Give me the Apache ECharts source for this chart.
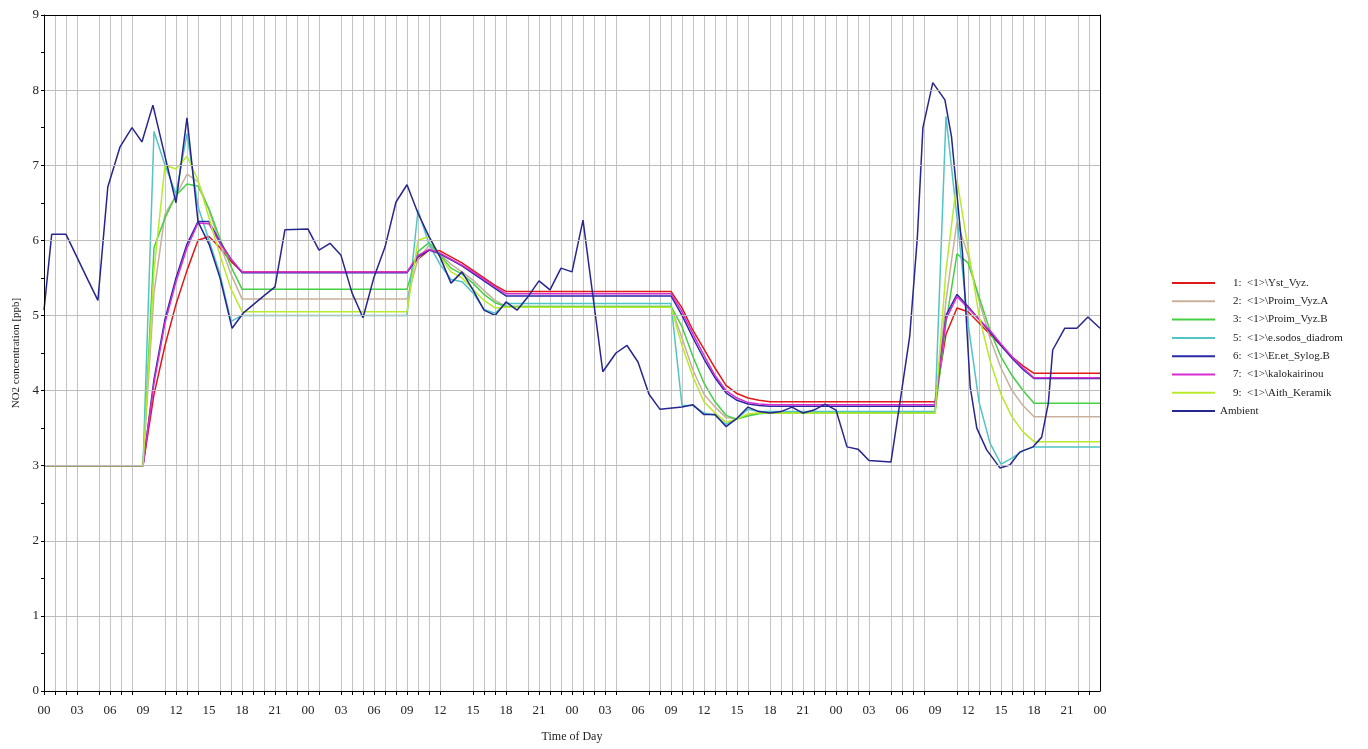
<!DOCTYPE html>
<html>
<head>
<meta charset="utf-8">
<title>NO2 concentration</title>
<script src="https://cdn.jsdelivr.net/npm/echarts@6/dist/echarts.min.js"></script>
<style>
  html, body { margin: 0; padding: 0; background: #ffffff; }
  #chart { width: 1368px; height: 749px; }
</style>
</head>
<body>
<div id="chart"></div>
<script>
// Hour-of-day labels repeated every day along the time axis (every 3 h)
const dayHourLabels = ['00', '03', '06', '09', '12', '15', '18', '21'];

// Hours (from start of run) that carry a vertical grid line and an axis tick
const gridHours = [0, 1, 2, 3, 5, 6, 7, 8, 11, 12, 13, 14, 16, 17, 18, 19, 20, 21, 22, 23, 24,
  25, 27, 28, 29, 30, 31, 32, 33, 34, 35, 36, 39, 40, 41, 42, 44, 45, 46, 47, 48,
  49, 50, 51, 52, 55, 56, 57, 58, 59, 60, 61, 62, 63, 64, 66, 67, 68, 69, 70, 71, 72,
  73, 74, 75, 77, 78, 79, 80, 83, 84, 85, 86, 87, 88, 89, 90, 91, 94, 95];

// Station series: [hour, NO2 ppb]
const yst_vyz = [[0,3.0],[9,3.0],[10,3.95],[11,4.6],[12,5.15],[13,5.6],[14,6.0],[15,6.05],[16,5.9],[17,5.72],[18,5.58],
  [33,5.58],[34,5.75],[35,5.87],[36,5.86],[37,5.78],[38,5.7],[39,5.6],[40,5.5],[41,5.4],[42,5.32],
  [57,5.32],[58,5.1],[59,4.8],[60,4.55],[61,4.3],[62,4.07],[63,3.96],[64,3.9],[65,3.87],[66,3.85],
  [81,3.85],[82,4.75],[83,5.1],[84,5.05],[85,4.9],[86,4.75],[87,4.6],[88,4.45],[89,4.33],[90,4.23],[96,4.23]];

const proim_vyz_a = [[0,3.0],[9,3.0],[10,5.3],[11,6.35],[12,6.6],[13,6.88],[14,6.78],[15,6.4],[16,5.95],[17,5.55],[18,5.22],
  [33,5.22],[34,5.75],[35,5.93],[36,5.82],[37,5.68],[38,5.58],[39,5.47],[40,5.33],[41,5.2],[42,5.12],
  [57,5.12],[58,4.7],[59,4.27],[60,3.95],[61,3.78],[62,3.64],[63,3.62],[64,3.68],[65,3.7],[66,3.71],
  [81,3.71],[82,5.2],[83,6.25],[84,5.8],[85,5.2],[86,4.7],[87,4.3],[88,4.0],[89,3.8],[90,3.65],[96,3.65]];

const proim_vyz_b = [[0,3.0],[9,3.0],[10,5.9],[11,6.3],[12,6.6],[13,6.75],[14,6.72],[15,6.42],[16,6.02],[17,5.65],[18,5.35],
  [33,5.35],[34,5.85],[35,5.97],[36,5.8],[37,5.63],[38,5.55],[39,5.43],[40,5.28],[41,5.17],[42,5.12],
  [57,5.12],[58,4.85],[59,4.45],[60,4.1],[61,3.85],[62,3.67],[63,3.62],[64,3.66],[65,3.69],[66,3.7],
  [81,3.7],[82,4.9],[83,5.82],[84,5.7],[85,5.25],[86,4.8],[87,4.45],[88,4.2],[89,4.0],[90,3.83],[96,3.83]];

const esodos_diadrom = [[0,3.0],[9,3.0],[10,7.45],[11,7.0],[12,6.62],[13,7.42],[14,6.45],[15,6.0],[16,5.55],[17,4.92],[18,5.0],
  [33,5.0],[34,6.4],[35,5.95],[36,5.68],[37,5.48],[38,5.45],[39,5.3],[40,5.08],[41,5.03],[42,5.16],
  [57,5.16],[58,3.8],[59,3.8],[60,3.7],[61,3.67],[62,3.55],[63,3.63],[64,3.75],[65,3.72],[66,3.72],
  [81,3.72],[82,7.65],[83,6.3],[84,4.9],[85,3.85],[86,3.3],[87,3.02],[88,3.1],[89,3.2],[90,3.25],[96,3.25]];

const eret_sylog_b = [[0,3.0],[9,3.0],[10,4.15],[11,4.95],[12,5.5],[13,5.95],[14,6.25],[15,6.25],[16,5.98],[17,5.75],[18,5.57],
  [33,5.57],[34,5.78],[35,5.87],[36,5.82],[37,5.74],[38,5.66],[39,5.56],[40,5.46],[41,5.36],[42,5.26],
  [57,5.26],[58,5.0],[59,4.7],[60,4.42],[61,4.17],[62,3.97],[63,3.87],[64,3.82],[65,3.8],[66,3.79],
  [81,3.79],[82,5.0],[83,5.28],[84,5.12],[85,4.95],[86,4.78],[87,4.6],[88,4.43],[89,4.28],[90,4.16],[96,4.16]];

const kalokairinou = [[0,3.0],[9,3.0],[10,4.1],[11,4.9],[12,5.45],[13,5.9],[14,6.23],[15,6.22],[16,5.96],[17,5.75],[18,5.58],
  [33,5.58],[34,5.8],[35,5.88],[36,5.83],[37,5.75],[38,5.67],[39,5.58],[40,5.48],[41,5.38],[42,5.29],
  [57,5.29],[58,5.05],[59,4.75],[60,4.47],[61,4.2],[62,4.0],[63,3.9],[64,3.84],[65,3.82],[66,3.81],
  [81,3.81],[82,4.95],[83,5.25],[84,5.1],[85,4.95],[86,4.8],[87,4.62],[88,4.45],[89,4.3],[90,4.17],[96,4.17]];

const aith_keramik = [[0,3.0],[9,3.0],[10,5.6],[11,7.0],[12,6.95],[13,7.12],[14,6.8],[15,6.3],[16,5.8],[17,5.35],[18,5.05],
  [33,5.05],[34,6.0],[35,6.05],[36,5.78],[37,5.58],[38,5.5],[39,5.35],[40,5.2],[41,5.1],[42,5.11],
  [57,5.11],[58,4.6],[59,4.18],[60,3.85],[61,3.7],[62,3.58],[63,3.62],[64,3.69],[65,3.7],[66,3.7],
  [81,3.7],[82,5.6],[83,6.8],[84,5.9],[85,5.0],[86,4.4],[87,3.95],[88,3.65],[89,3.45],[90,3.32],[96,3.32]];

// Measured ambient concentration
const ambient = [[0,5.07],[0.7,6.08],[2,6.08],[4,5.47],[4.9,5.2],[5.8,6.71],[6.9,7.24],[8,7.5],[8.9,7.31],[9.9,7.8],
  [12,6.5],[13,7.63],[14,6.25],[15,5.95],[16,5.5],[17.1,4.83],[18.1,5.03],[19.9,5.25],[21,5.38],[21.9,6.14],
  [24,6.15],[25,5.87],[26,5.96],[27,5.8],[28,5.3],[29,4.97],[30,5.51],[31,5.91],[32,6.51],[33,6.74],
  [34,6.36],[35,6.05],[36,5.78],[37,5.43],[38,5.58],[39,5.34],[40,5.07],[41,5.0],[42,5.18],[43,5.07],
  [44,5.25],[45,5.46],[46,5.34],[47,5.63],[48,5.58],[49,6.27],[50.8,4.25],[52,4.5],[53,4.6],[54,4.38],
  [55,3.95],[56,3.75],[58,3.78],[59,3.81],[60,3.68],[61,3.68],[62,3.52],[63,3.63],[64,3.78],[65,3.72],
  [66,3.7],[67,3.72],[68,3.78],[69,3.7],[70,3.74],[71,3.82],[72,3.74],[73,3.25],[74,3.22],[75,3.07],
  [77,3.05],[77.8,3.83],[78.7,4.72],[79.4,6.05],[79.9,7.5],[80.8,8.1],[81.9,7.87],[82.5,7.38],[83.5,5.83],
  [84.2,4.05],[84.8,3.5],[85.7,3.21],[86.9,2.97],[87.8,3.01],[88.7,3.18],[89.9,3.25],[90.7,3.38],
  [91.3,3.83],[91.7,4.54],[92.8,4.83],[93.9,4.83],[94.9,4.98],[96,4.83]];

const seriesNames = [
  '1:  <1>\\Yst_Vyz.',
  '2:  <1>\\Proim_Vyz.A',
  '3:  <1>\\Proim_Vyz.B',
  '5:  <1>\\e.sodos_diadrom',
  '6:  <1>\\Er.et_Sylog.B',
  '7:  <1>\\kalokairinou',
  '9:  <1>\\Aith_Keramik',
  'Ambient'
];
const seriesData = [yst_vyz, proim_vyz_a, proim_vyz_b, esodos_diadrom, eret_sylog_b, kalokairinou, aith_keramik, ambient];
const seriesColors = ['#e01818', '#c9b09c', '#44d044', '#52c4c4', '#2a2aa8', '#d82cd0', '#b8ea2c', '#26268e'];

const FONT = '"Liberation Serif", "DejaVu Serif", serif';

const chart = echarts.init(document.getElementById('chart'), null, { renderer: 'canvas' });

const lineSeries = seriesNames.map((name, i) => ({
  name: name,
  type: 'line',
  data: seriesData[i],
  showSymbol: false,
  symbol: 'none',
  smooth: false,
  z: 3,
  color: seriesColors[i],
  lineStyle: { color: seriesColors[i], width: 1.5 }
}));

// Vertical hour grid lines
const gridSeries = {
  name: 'hourGrid',
  type: 'custom',
  silent: true,
  z: 1,
  data: gridHours,
  encode: { x: 0 },
  renderItem: function (params, api) {
    const h = api.value(0);
    const top = api.coord([h, 9]);
    const bottom = api.coord([h, 0]);
    return {
      type: 'line',
      shape: { x1: Math.round(top[0]) + 0.5, y1: top[1], x2: Math.round(bottom[0]) + 0.5, y2: bottom[1] },
      style: { stroke: '#c4c4c4', lineWidth: 1 }
    };
  }
};

// Frame axes along the top and right edges of the plot
const frameAxis = {
  type: 'value', min: 0, show: true, z: 6,
  axisLine: { show: true, onZero: false, lineStyle: { color: '#000000', width: 1 } },
  axisTick: { show: false }, axisLabel: { show: false }, splitLine: { show: false }
};

chart.setOption({
  animation: false,
  backgroundColor: '#ffffff',
  grid: { left: 44, right: 268, top: 15, bottom: 58 },
  legend: {
    orient: 'vertical',
    left: 1167,
    top: 269,
    icon: 'rect',
    itemWidth: 43,
    itemHeight: 2,
    itemGap: 0.3,
    data: seriesNames,
    selectedMode: false,
    textStyle: {
      fontFamily: FONT, fontSize: 11, color: '#222222', lineHeight: 18,
      rich: { n: { fontFamily: FONT, fontSize: 11, color: '#222222', padding: [0, 0, 0, 13], lineHeight: 18 } }
    },
    formatter: function (name) {
      return name === 'Ambient' ? name : '{n|' + name + '}';
    }
  },
  xAxis: [{
    type: 'value',
    min: 0, max: 96, interval: 3,
    z: 6,
    name: 'Time of Day',
    nameLocation: 'middle',
    nameGap: 40,
    nameTextStyle: { fontFamily: FONT, fontSize: 12, color: '#222222' },
    axisLine: { show: true, onZero: false, lineStyle: { color: '#000000', width: 1 } },
    axisTick: { show: true, customValues: gridHours, length: 4, lineStyle: { color: '#000000' } },
    axisLabel: {
      margin: 13,
      fontFamily: FONT, fontSize: 13, color: '#222222',
      formatter: function (v) {
        return dayHourLabels[Math.round(v / 3) % 8];
      }
    },
    splitLine: { show: false }
  }, Object.assign({}, frameAxis, { position: 'top', max: 96 })],
  yAxis: [{
    type: 'value',
    min: 0, max: 9, interval: 1,
    z: 6,
    name: 'NO2 concentration [ppb]',
    nameLocation: 'middle',
    nameGap: 17,
    nameTextStyle: { fontFamily: FONT, fontSize: 11, color: '#222222' },
    axisLine: { show: true, onZero: false, lineStyle: { color: '#000000', width: 1 } },
    axisTick: { show: true, length: 3, lineStyle: { color: '#000000' } },
    minorTick: { show: true, splitNumber: 2, length: 3, lineStyle: { color: '#000000' } },
    axisLabel: { margin: 5, fontFamily: FONT, fontSize: 13, color: '#222222' },
    splitLine: { show: true, lineStyle: { color: '#bdbdbd', width: 1 } }
  }, Object.assign({}, frameAxis, { position: 'right', max: 9 })],
  series: [gridSeries].concat(lineSeries)
});
</script>
</body>
</html>
